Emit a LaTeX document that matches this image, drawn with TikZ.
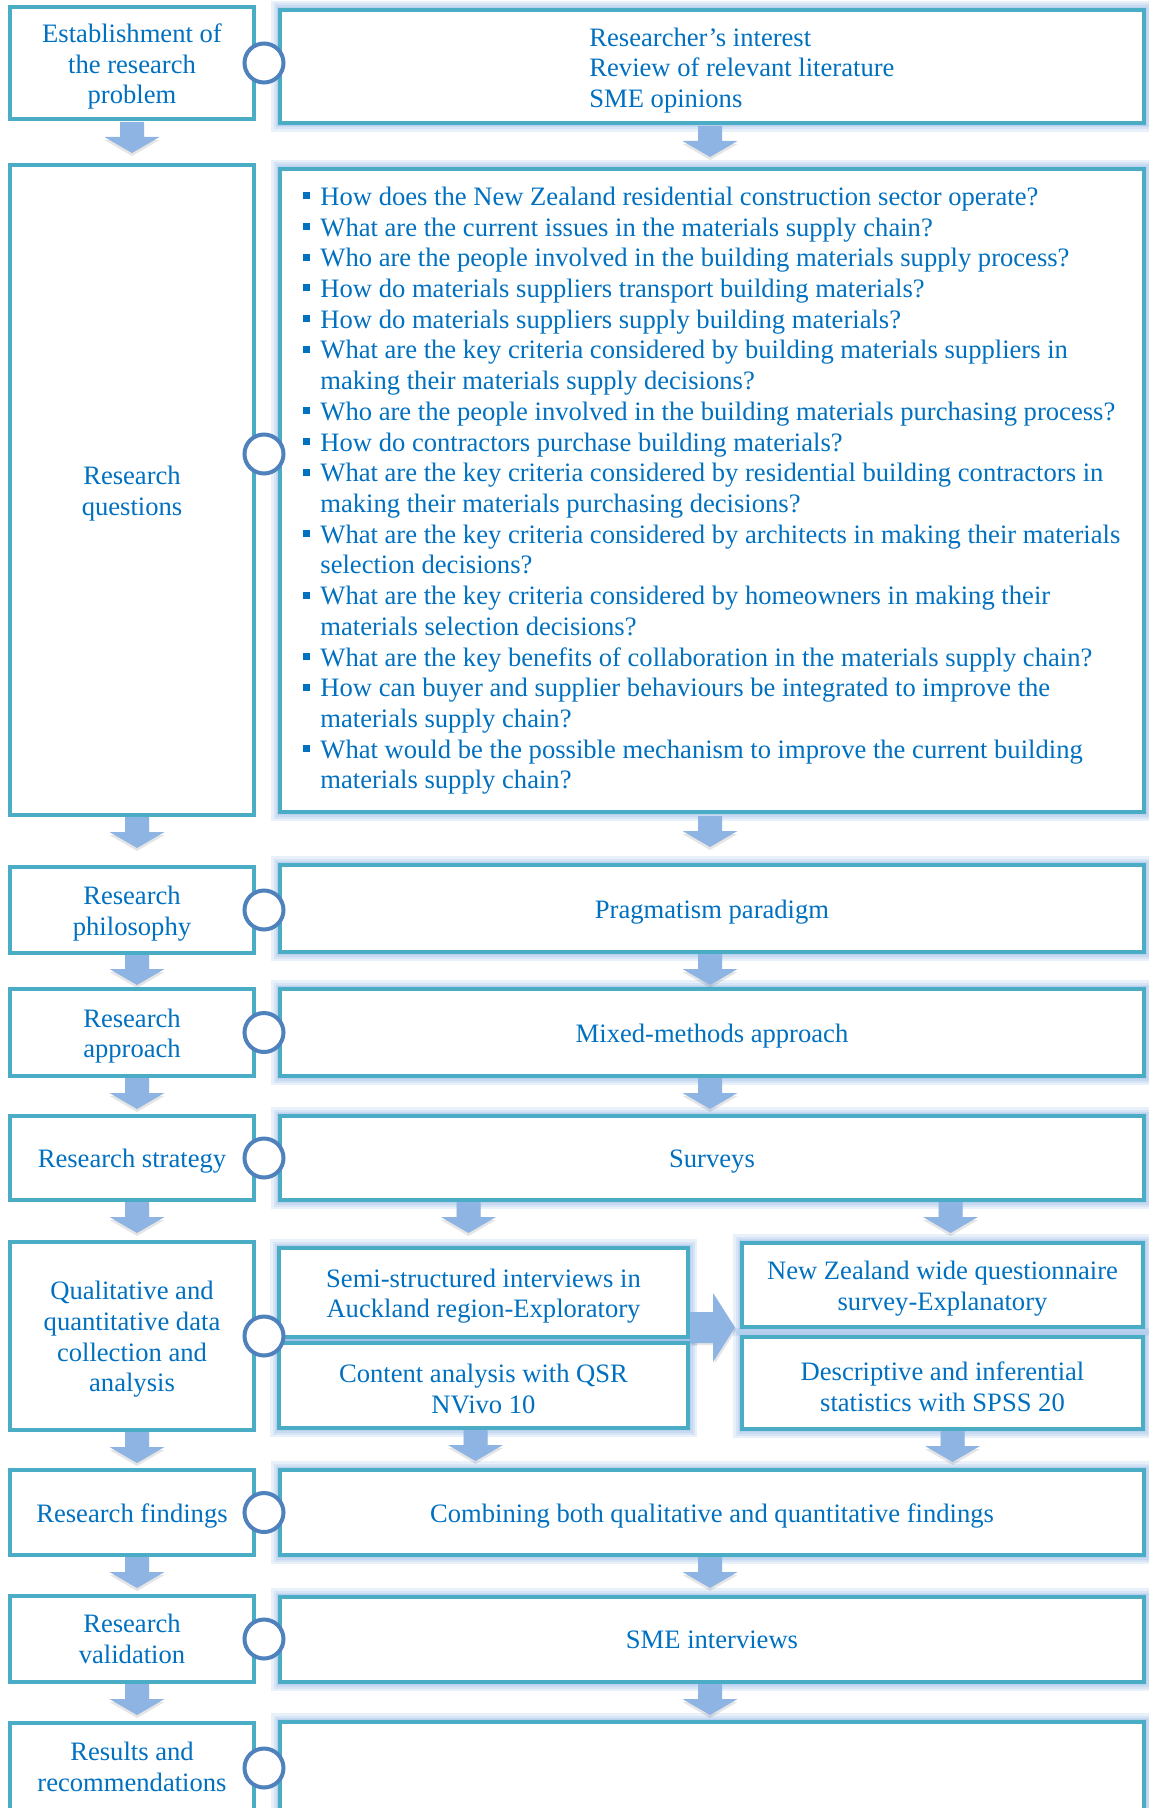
\documentclass[tikz,border=0pt]{standalone}
\usepackage{fontspec}
\setmainfont{Liberation Serif}
\usetikzlibrary{calc}

\definecolor{edgeteal}{RGB}{75,172,198}
\definecolor{ringblue}{RGB}{79,129,189}
\definecolor{arrowblue}{RGB}{142,180,227}
\definecolor{textblue}{RGB}{0,112,192}
\definecolor{glowblue}{RGB}{141,179,226}

\pgfdeclarelayer{glow}
\pgfdeclarelayer{arrows}
\pgfsetlayers{glow,arrows,main}

% small square bullet for the question list
\newcommand\sqbullet{\raisebox{3pt}{\rule{3.5pt}{3.5pt}}}

% wide block arrow pointing down; #1 is the top of the shaft
\newcommand\blockdown[1]{%
  \fill[blockshade] #1 ++(0,3) ++(-12,0) -- ++(24,0) -- ++(0,15) -- ++(15.5,0)
        -- ++(-27.5,16) -- ++(-27.5,-16) -- ++(15.5,0) -- cycle;
  \fill[blockfill] #1 ++(-12,0) -- ++(24,0) -- ++(0,15) -- ++(15.5,0)
        -- ++(-27.5,16) -- ++(-27.5,-16) -- ++(15.5,0) -- cycle;}

% block arrow pointing right; #1 is the middle of the shaft's tail
\newcommand\blockright[1]{%
  \fill[blockshade] #1 ++(1.5,2) ++(0,-15.5) -- ++(23,0) -- ++(0,-19) -- ++(22,34.5)
        -- ++(-22,34.5) -- ++(0,-19) -- ++(-23,0) -- cycle;
  \fill[blockfill] #1 ++(0,-15.5) -- ++(23,0) -- ++(0,-19) -- ++(22,34.5)
        -- ++(-22,34.5) -- ++(0,-19) -- ++(-23,0) -- cycle;}

% centred caption of box #2, lowered by #1 from the box middle
\newcommand\boxtext[3][1.75pt]{\node[caption] (#2t) at ([yshift=-#1]#2.center) {#3};}

\tikzset{
  spanbox/.style n args={4}{minimum width={(#3-#1)*0.5pt},
    minimum height={(#4-#2)*0.5pt}, at={({(#1+#3)/2},{(#2+#4)/2})}},
  bodyfont/.style={font=\fontsize{13.3}{15.36}\selectfont},
  stagebox/.style={rectangle, draw=edgeteal, line width=2pt, fill=white,
    inner sep=0pt, outer sep=0pt},
  ring/.style={circle, draw=ringblue, line width=2pt, fill=white,
    minimum size=19.5pt, inner sep=0pt},
  plaintext/.style={inner sep=0pt, text=textblue, bodyfont},
  caption/.style={plaintext, align=center},
  blockfill/.style={fill=arrowblue},
  blockshade/.style={fill=black, opacity=0.10},
}

\begin{document}
\begin{tikzpicture}[x=0.5pt, y=-0.5pt]
\useasboundingbox (0,0) rectangle (1149,1808);
\clip (0,0) rectangle (1149,1808);

% stage column
\node[stagebox, spanbox={10}{7}{254}{119}] (l1) {};
\node[stagebox, spanbox={10}{165}{254}{815}] (l2) {};
\node[stagebox, spanbox={10}{867}{254}{953}] (l3) {};
\node[stagebox, spanbox={10}{989}{254}{1076}] (l4) {};
\node[stagebox, spanbox={10}{1116}{254}{1200}] (l5) {};
\node[stagebox, spanbox={10}{1242}{254}{1430}] (l6) {};
\node[stagebox, spanbox={10}{1470}{254}{1555}] (l7) {};
\node[stagebox, spanbox={10}{1596}{254}{1682}] (l8) {};
\node[stagebox, spanbox={10}{1723}{254}{1813}] (l9) {};

\boxtext{l1}{Establishment of\\the research\\problem}
\boxtext{l2}{Research\\questions}
\boxtext{l3}{Research\\philosophy}
\boxtext{l4}{Research\\approach}
\boxtext{l5}{Research strategy}
\boxtext{l6}{Qualitative and\\quantitative data\\collection and\\analysis}
\boxtext{l7}{Research findings}
\boxtext[0pt]{l8}{Research\\validation}
\boxtext[-0.5pt]{l9}{Results and\\recommendations}

% detail column
\node[stagebox, spanbox={280}{10}{1144}{123}] (r1) {};
\node[stagebox, spanbox={280}{169}{1144}{812}] (r2) {};
\node[stagebox, spanbox={280}{865}{1144}{952}] (r3) {};
\node[stagebox, spanbox={280}{989}{1144}{1076}] (r4) {};
\node[stagebox, spanbox={280}{1116}{1144}{1200}] (r5) {};
\node[stagebox, spanbox={279}{1248}{688}{1337}] (r6a) {};
\node[stagebox, spanbox={279}{1343}{688}{1428}] (r6b) {};
\node[stagebox, spanbox={742}{1243}{1143}{1327}] (r6c) {};
\node[stagebox, spanbox={742}{1337}{1143}{1429}] (r6d) {};
\node[stagebox, spanbox={280}{1470}{1144}{1555}] (r7) {};
\node[stagebox, spanbox={280}{1597}{1144}{1682}] (r8) {};
\node[stagebox, spanbox={280}{1722}{1144}{1813}] (r9) {};

\boxtext{r3}{Pragmatism paradigm}
\boxtext{r4}{Mixed-methods approach}
\boxtext{r5}{Surveys}
\boxtext{r6a}{Semi-structured interviews in\\Auckland region-Exploratory}
\boxtext{r6b}{Content analysis with QSR\\NVivo 10}
\boxtext{r6c}{New Zealand wide questionnaire\\survey-Explanatory}
\boxtext{r6d}{Descriptive and inferential\\statistics with SPSS 20}
\boxtext{r7}{Combining both qualitative and quantitative findings}
\boxtext[0pt]{r8}{SME interviews}

\node[plaintext, anchor=west, align=left] (sources) at (589,70.5)
  {Researcher’s interest\\Review of relevant literature\\SME opinions};

\node[plaintext, anchor=west] (questions) at (303,491) {%
\begin{tabular}{@{}l@{\hspace{5pt}}l@{}}
\sqbullet & How does the New Zealand residential construction sector operate?\\
\sqbullet & What are the current issues in the materials supply chain?\\
\sqbullet & Who are the people involved in the building materials supply process?\\
\sqbullet & How do materials suppliers transport building materials?\\
\sqbullet & How do materials suppliers supply building materials?\\
\sqbullet & What are the key criteria considered by building materials suppliers in\\
          & making their materials supply decisions?\\
\sqbullet & Who are the people involved in the building materials purchasing process?\\
\sqbullet & How do contractors purchase building materials?\\
\sqbullet & What are the key criteria considered by residential building contractors in\\
          & making their materials purchasing decisions?\\
\sqbullet & What are the key criteria considered by architects in making their materials\\
          & selection decisions?\\
\sqbullet & What are the key criteria considered by homeowners in making their\\
          & materials selection decisions?\\
\sqbullet & What are the key benefits of collaboration in the materials supply chain?\\
\sqbullet & How can buyer and supplier behaviours be integrated to improve the\\
          & materials supply chain?\\
\sqbullet & What would be the possible mechanism to improve the current building\\
          & materials supply chain?
\end{tabular}};

% rings joining each stage to its details
\foreach \i/\y in {1/63, 2/454, 3/910, 4/1032.5, 5/1158, 6/1336, 7/1512.5, 8/1639, 9/1768}
  \node[ring] (c\i) at (264,\y) {};

% soft halo round the detail boxes
\begin{pgfonlayer}{glow}
  \clip (0,0) rectangle (1149,1808);
  \foreach \n in {r1,r2,r3,r4,r5,r6a,r6b,r6c,r6d,r7,r8,r9}
    \foreach \w in {9pt,6.5pt,4.5pt,3pt}
      \draw[glowblue, opacity=0.2, line width=\w] (\n.north west) rectangle (\n.south east);
\end{pgfonlayer}

% block arrows between stages
\begin{pgfonlayer}{arrows}
  \clip (0,0) rectangle (1149,1808);
  \blockdown{($(l1.south)+(0,3)$)}
  \blockdown{($(l2.south)+(5,2)$)}
  \blockdown{($(l3.south)+(5,1)$)}
  \blockdown{($(l4.south)+(5,2)$)}
  \blockdown{($(l5.south)+(5,2)$)}
  \blockdown{($(l6.south)+(5,2)$)}
  \blockdown{($(l7.south)+(5,2)$)}
  \blockdown{($(l8.south)+(5,2)$)}

  \blockdown{($(r1.south)+(-2,3)$)}
  \blockdown{($(r2.south)+(-2,4)$)}
  \blockdown{($(r3.south)+(-2,2)$)}
  \blockdown{($(r4.south)+(-2,2)$)}
  \blockdown{($(r5.south -| r6a.north)+(-15,2)$)}
  \blockdown{($(r5.south -| r6c.north)+(8,2)$)}
  \blockdown{($(r6b.south)+(-8,2)$)}
  \blockdown{($(r6d.south)+(10,2)$)}
  \blockdown{($(r7.south)+(-2,2)$)}
  \blockdown{($(r8.south)+(-2,2)$)}

  \blockright{($(r6a.south east)+(2,-9.5)$)}
\end{pgfonlayer}
\end{tikzpicture}
\end{document}
